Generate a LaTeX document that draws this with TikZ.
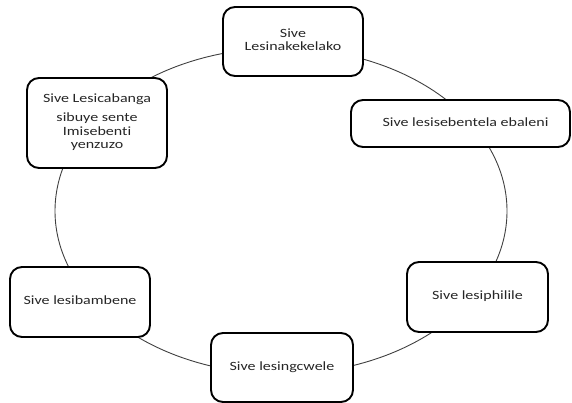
\documentclass[tikz,border=0pt]{standalone}
\usepackage{fontspec}
\setmainfont{Carlito}[Ligatures={NoCommon}]
\usepackage{graphicx}
\newcommand{\stagetext}[1]{\scalebox{1.27}[1]{\begin{tabular}{@{}c@{}}#1\end{tabular}}}
\begin{document}
\begin{tikzpicture}[x=1pt,y=-1pt,
  stagebox/.style={draw=black, line width=1.9pt, rounded corners=12pt, fill=white,
    inner sep=0pt, text=black!85, font=\fontsize{12.6}{13.5}\selectfont},
  ring/.style={draw=black!75, line width=0.9pt}]
\useasboundingbox (0,0) rectangle (572,403);
\draw[ring] (281,211) ellipse [x radius=226, y radius=163];
\node[stagebox, minimum width=140pt, minimum height=69pt] (care) at (293,41.5)
  {\stagetext{Sive\\Lesinakekelako}};
\node[stagebox, minimum width=219pt, minimum height=47pt] (work) at (460.5,123.5)
  {\hspace*{10pt}\stagetext{Sive lesisebentela ebaleni}};
\node[stagebox, minimum width=141pt, minimum height=70pt] (ripe) at (477.5,297)
  {\stagetext{Sive lesiphilile}};
\node[stagebox, minimum width=142pt, minimum height=69pt] (holy) at (282,367.5)
  {\stagetext{Sive lesingcwele}};
\node[stagebox, minimum width=140pt, minimum height=70pt] (unity) at (80,302)
  {\stagetext{Sive lesibambene}};
\node[stagebox, minimum width=140pt, minimum height=90pt] (think) at (97,123)
  {\stagetext{Sive Lesicabanga\\[6pt]sibuye sente\\Imisebenti\\yenzuzo}};
\end{tikzpicture}
\end{document}
